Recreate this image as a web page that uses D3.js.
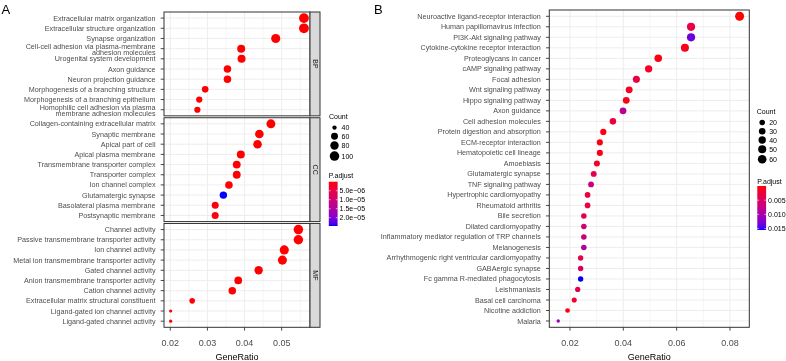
<!DOCTYPE html>
<html><head><meta charset="utf-8">
<script src="https://cdn.jsdelivr.net/npm/d3@7"></script>
<style>
body{margin:0;background:#fff}
svg{will-change:transform;transform:translateZ(0)}
text{font-family:"Liberation Sans",Arial,Helvetica,sans-serif}
</style></head>
<body><svg id="c" width="786" height="361"></svg>
<script>
// ---------------- DATA ----------------
// Panel A (GO enrichment, facets BP / CC / MF)
const bpTerms = ["Extracellular matrix organization","Extracellular structure organization","Synapse organization",
  "Cell-cell adhesion via plasma-membrane\nadhesion molecules","Urogenital system development","Axon guidance",
  "Neuron projection guidance","Morphogenesis of a branching structure","Morphogenesis of a branching epithelium",
  "Homophilic cell adhesion via plasma\nmembrane adhesion molecules"];
const bpRatio = [0.0560,0.0560,0.0484,0.0391,0.0392,0.0354,0.0354,0.0294,0.0278,0.0273];
const bpCount = [106,106,92,74,74,67,67,56,53,52];
const bpPadj  = [1e-12,1e-12,2e-11,1e-9,5e-10,3e-10,4e-10,8e-9,2e-8,1e-7];

const ccTerms = ["Collagen-containing extracellular matrix","Synaptic membrane","Apical part of cell","Apical plasma membrane",
  "Transmembrane transporter complex","Transporter complex","Ion channel complex","Glutamatergic synapse",
  "Basolateral plasma membrane","Postsynaptic membrane"];
const ccRatio = [0.0471,0.0440,0.0435,0.0390,0.0379,0.0379,0.0358,0.0343,0.0321,0.0321];
const ccCount = [90,84,83,74,72,72,68,66,61,61];
const ccPadj  = [1e-11,3e-9,2e-9,5e-8,1e-7,1.2e-7,3e-7,2.46e-5,6e-7,5e-7];

const mfTerms = ["Channel activity","Passive transmembrane transporter activity","Ion channel activity",
  "Metal ion transmembrane transporter activity","Gated channel activity","Anion transmembrane transporter activity",
  "Cation channel activity","Extracellular matrix structural constituent","Ligand-gated ion channel activity",
  "Ligand-gated channel activity"];
const mfRatio = [0.0545,0.0545,0.0507,0.0502,0.0438,0.0383,0.0367,0.0259,0.0201,0.0201];
const mfCount = [100,100,93,92,80,70,67,47,38,38];
const mfPadj  = [1e-10,1e-10,4e-10,5e-9,2e-9,3e-8,8e-8,4e-7,3e-7,3e-7];

const facetLabels = ["BP","CC","MF"];
const aXTicks = [0.02,0.03,0.04,0.05];
const aCountLegend = [40,60,80,100];
const aPadjTicks = [5e-6,1e-5,1.5e-5,2e-5];
const aPadjTickLabels = ["5.0e\u221206","1.0e\u221205","1.5e\u221205","2.0e\u221205"];

// Panel B (KEGG enrichment)
const keggTerms = ["Neuroactive ligand-receptor interaction","Human papillomavirus infection","PI3K-Akt signaling pathway",
  "Cytokine-cytokine receptor interaction","Proteoglycans in cancer","cAMP signaling pathway","Focal adhesion",
  "Wnt signaling pathway","Hippo signaling pathway","Axon guidance","Cell adhesion molecules",
  "Protein digestion and absorption","ECM-receptor interaction","Hematopoietic cell lineage","Amoebiasis",
  "Glutamatergic synapse","TNF signaling pathway","Hypertrophic cardiomyopathy","Rheumatoid arthritis",
  "Bile secretion","Dilated cardiomyopathy","Inflammatory mediator regulation of TRP channels","Melanogenesis",
  "Arrhythmogenic right ventricular cardiomyopathy","GABAergic synapse","Fc gamma R-mediated phagocytosis",
  "Leishmaniasis","Basal cell carcinoma","Nicotine addiction","Malaria"];
const keggRatio = [0.0836,0.0654,0.0654,0.0631,0.0531,0.0495,0.0449,0.0422,0.0411,0.0399,0.0361,0.0325,0.0312,0.0312,
  0.0301,0.0289,0.0279,0.0266,0.0266,0.0252,0.0252,0.0252,0.0252,0.0240,0.0240,0.0240,0.0229,0.0216,0.0191,0.0156];
const keggCount = [67,52,52,50,42,39,36,34,33,32,29,26,25,25,24,23,22,21,21,20,20,20,20,19,19,19,18,17,15,12];
const keggPadj  = [0.00001,0.0030,0.0135,0.0008,0.0005,0.0015,0.0030,0.0012,0.0008,0.0085,0.0025,0.0006,0.0004,0.0007,
  0.0015,0.0040,0.0072,0.0028,0.0030,0.0040,0.0062,0.0068,0.0092,0.0032,0.0050,0.0155,0.0035,0.0018,0.0006,0.0112];
const bXTicks = [0.02,0.04,0.06,0.08];
const bCountLegend = [20,30,40,50,60];
const bPadjTicks = [0.005,0.010,0.015];
const bPadjTickLabels = ["0.005","0.010","0.015"];

// ---------------- DRAWING ----------------
const svg = d3.select("#c");
const GRID = "#EBEBEB", BORDER = "#333333", AXTXT = "#4D4D4D";
const LAB_FS = 7.2, TICK_FS = 9, TITLE_FS = 9, LEG_FS = 7;
const lab = d3.interpolateLab("#FF0000", "#0000FF");

function sizeScale(cmin, cmax, rmin, rmax) {
  const t = d3.scaleLinear().domain([cmin, cmax]).range([0, 1]).clamp(true);
  const r = d3.scaleLinear().domain([0, 1]).range([rmin, rmax]);
  return v => r(Math.sqrt(t(v)));
}

function drawPanel(g, x, y0, y1, terms, ratio, count, padj, rFn, cScale, minorTicks) {
  const y = d3.scalePoint().domain(terms).range([y0, y1]).padding(0.6);
  const [xl, xr] = x.range();
  g.append("rect").attr("x", xl).attr("y", y0).attr("width", xr - xl).attr("height", y1 - y0).attr("fill", "#fff");
  g.selectAll(null).data(minorTicks).join("line")
    .attr("x1", d => x(d)).attr("x2", d => x(d)).attr("y1", y0).attr("y2", y1)
    .attr("stroke", GRID).attr("stroke-width", 0.5);
  g.selectAll(null).data(x.ticksList).join("line")
    .attr("x1", d => x(d)).attr("x2", d => x(d)).attr("y1", y0).attr("y2", y1)
    .attr("stroke", GRID).attr("stroke-width", 0.9);
  g.selectAll(null).data(terms).join("line")
    .attr("x1", xl).attr("x2", xr).attr("y1", d => y(d)).attr("y2", d => y(d))
    .attr("stroke", GRID).attr("stroke-width", 0.9);
  const pts = terms.map((t, i) => ({t, r: ratio[i], c: count[i], p: padj[i]}));
  g.selectAll(null).data(pts).join("circle")
    .attr("cx", d => x(d.r)).attr("cy", d => y(d.t)).attr("r", d => rFn(d.c))
    .attr("fill", d => cScale(d.p));
  g.append("rect").attr("x", xl).attr("y", y0).attr("width", xr - xl).attr("height", y1 - y0)
    .attr("fill", "none").attr("stroke", BORDER).attr("stroke-width", 1);
  g.selectAll(null).data(terms).join("line")
    .attr("x1", xl - 3.3).attr("x2", xl).attr("y1", d => y(d)).attr("y2", d => y(d))
    .attr("stroke", BORDER).attr("stroke-width", 0.9);
  const tx = g.selectAll(null).data(terms).join("text")
    .attr("x", xl - 8.5).attr("text-anchor", "end").attr("font-size", LAB_FS).attr("fill", AXTXT);
  tx.each(function(d) {
    const lines = d.split("\n");
    const sel = d3.select(this);
    const c = y(d);
    if (lines.length === 1) {
      sel.append("tspan").attr("x", xl - 8.5).attr("y", c + LAB_FS * 0.35).text(lines[0]);
    } else {
      sel.append("tspan").attr("x", xl - 8.5).attr("y", c - 2.2 + LAB_FS * 0.35).text(lines[0]);
      sel.append("tspan").attr("x", xl - 8.5).attr("y", c + 3.8 + LAB_FS * 0.35).text(lines[1]);
    }
  });
  return y;
}

function xAxis(g, x, ybot) {
  g.selectAll(null).data(x.ticksList).join("line")
    .attr("x1", d => x(d)).attr("x2", d => x(d)).attr("y1", ybot).attr("y2", ybot + 3.3)
    .attr("stroke", BORDER).attr("stroke-width", 0.9);
  g.selectAll(null).data(x.ticksList).join("text")
    .attr("x", d => x(d)).attr("y", ybot + 18.5).attr("text-anchor", "middle")
    .attr("font-size", TICK_FS).attr("fill", AXTXT).text(d => d3.format(".2f")(d));
  const [xl, xr] = x.range();
  g.append("text").attr("x", (xl + xr) / 2).attr("y", 359.5).attr("text-anchor", "middle")
    .attr("font-size", TITLE_FS).attr("fill", "#000").text("GeneRatio");
}

function sizeLegend(g, lx, ty, values, rFn) {
  g.append("text").attr("x", lx).attr("y", ty).attr("font-size", LEG_FS).attr("fill", "#000").text("Count");
  let yy = ty + 4;
  values.forEach(v => {
    const r = rFn(v);
    const h = Math.max(8.6, 2 * r + 1.6);
    const cy = yy + h / 2;
    g.append("circle").attr("cx", lx + 5.5).attr("cy", cy).attr("r", r).attr("fill", "#000");
    g.append("text").attr("x", lx + 12.5).attr("y", cy + LEG_FS * 0.36).attr("font-size", LEG_FS).attr("fill", "#000").text(v);
    yy += h;
  });
}

let gradId = 0;
function colorLegend(g, lx, ty, by0, by1, cScale, ticks, labels) {
  g.append("text").attr("x", lx).attr("y", ty).attr("font-size", LEG_FS).attr("fill", "#000").text("P.adjust");
  const id = "grad" + (gradId++);
  const grad = svg.append("defs").append("linearGradient").attr("id", id)
    .attr("x1", 0).attr("y1", 0).attr("x2", 0).attr("y2", 1);
  d3.range(0, 1.0001, 0.05).forEach(t => grad.append("stop").attr("offset", t).attr("stop-color", lab(t)));
  const bw = 8.8;
  g.append("rect").attr("x", lx).attr("y", by0).attr("width", bw).attr("height", by1 - by0).attr("fill", `url(#${id})`);
  const yb = d3.scaleLinear().domain(cScale.domain()).range([by0, by1]);
  ticks.forEach((t, i) => {
    const yy = yb(t);
    g.append("line").attr("x1", lx).attr("x2", lx + 1.8).attr("y1", yy).attr("y2", yy).attr("stroke", "#fff").attr("stroke-width", 0.6);
    g.append("line").attr("x1", lx + bw - 1.8).attr("x2", lx + bw).attr("y1", yy).attr("y2", yy).attr("stroke", "#fff").attr("stroke-width", 0.6);
    g.append("text").attr("x", lx + bw + 2).attr("y", yy + LEG_FS * 0.36).attr("font-size", LEG_FS).attr("fill", "#000").text(labels[i]);
  });
}

// ---------- Panel A ----------
const gA = svg.append("g");
const xA = d3.scaleLinear().domain([0.01831, 0.05763]).range([164, 310]);
xA.ticksList = aXTicks;
const allAP = bpPadj.concat(ccPadj, mfPadj);
const allAC = bpCount.concat(ccCount, mfCount);
const cA = d3.scaleSequential(lab).domain([d3.min(allAP), d3.max(allAP)]);
const rA = sizeScale(d3.min(allAC), d3.max(allAC), 1.6, 4.9);
const facetTop = 12, facetBot = 327.3, facetGap = 1.9;
const fh = (facetBot - facetTop - 2 * facetGap) / 3;
const facetData = [
  [bpTerms, bpRatio, bpCount, bpPadj],
  [ccTerms, ccRatio, ccCount, ccPadj],
  [mfTerms, mfRatio, mfCount, mfPadj]];
facetData.forEach((fd, i) => {
  const y0 = facetTop + i * (fh + facetGap), y1 = y0 + fh;
  drawPanel(gA, xA, y0, y1, fd[0], fd[1], fd[2], fd[3], rA, cA, [0.025, 0.035, 0.045, 0.055]);
  gA.append("rect").attr("x", 310).attr("y", y0).attr("width", 10).attr("height", fh)
    .attr("fill", "#D9D9D9").attr("stroke", BORDER).attr("stroke-width", 1);
  gA.append("text").attr("transform", `translate(${315 - 2.5},${(y0 + y1) / 2}) rotate(90)`)
    .attr("text-anchor", "middle").attr("font-size", LEG_FS).attr("fill", "#1A1A1A").text(facetLabels[i]);
});
xAxis(gA, xA, facetBot);
sizeLegend(gA, 329, 119.3, aCountLegend, rA);
colorLegend(gA, 328.8, 178.3, 181.7, 226, cA, aPadjTicks, aPadjTickLabels);
svg.append("text").attr("x", 1.5).attr("y", 13.5).attr("font-size", 13).attr("fill", "#000").text("A");

// ---------- Panel B ----------
const gB = svg.append("g");
const xB = d3.scaleLinear().domain([0.01225, 0.08724]).range([549.3, 749.3]);
xB.ticksList = bXTicks;
const cB = d3.scaleSequential(lab).domain([d3.min(keggPadj), d3.max(keggPadj)]);
const rB = sizeScale(d3.min(keggCount), d3.max(keggCount), 1.7, 4.5);
drawPanel(gB, xB, 10, 327.3, keggTerms, keggRatio, keggCount, keggPadj, rB, cB, [0.03, 0.05, 0.07]);
xAxis(gB, xB, 327.3);
sizeLegend(gB, 756.7, 114.3, bCountLegend, rB);
colorLegend(gB, 757.3, 184.3, 186, 230, cB, bPadjTicks, bPadjTickLabels);
svg.append("text").attr("x", 374).attr("y", 13.5).attr("font-size", 13).attr("fill", "#000").text("B");
</script>
</body></html>
